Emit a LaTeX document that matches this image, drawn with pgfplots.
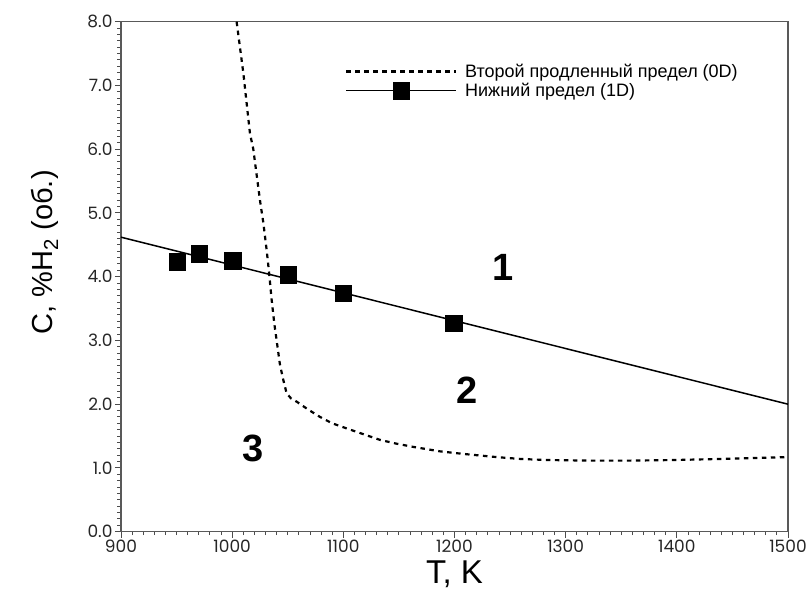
\documentclass[border=0pt]{standalone}
\usepackage{pgfplots}
\pgfplotsset{compat=1.18}
\usepackage{fontspec}
\setmainfont{Liberation Sans}
\newfontfamily\tickfont{Poppins}
\begin{document}
\begin{tikzpicture}[x=1pt,y=1pt]
\useasboundingbox (0,0) rectangle (809,596);
\begin{axis}[
  at={(121pt,64.3pt)}, anchor=south west,
  scale only axis, width=667pt, height=510pt,
  xmin=900, xmax=1500, ymin=0, ymax=8,
  xtick={900,1000,...,1500}, ytick={0,1,...,8},
  minor x tick num=9, minor y tick num=9,
  xtick pos=bottom, ytick pos=left, tick align=outside,
  major tick length=6pt, minor tick length=3.5pt,
  axis line style={draw=black!65, line width=1.1pt},
  every tick/.style={black!70, line width=0.9pt},
  /pgf/number format/assume math mode=true,
  tick label style={font=\fontsize{17}{17}\selectfont\tickfont, text=black!85},
  xticklabel={\pgfmathprintnumber[1000 sep={}]{\tick}},
  yticklabel={\pgfmathprintnumber[fixed,fixed zerofill,precision=1]{\tick}},
  xticklabel style={yshift=1pt},
  yticklabel style={xshift=1pt},
  xlabel={T, K},
  ylabel={C, \%H\textsubscript{2} (об.)},
  xlabel style={font=\fontsize{33}{33}\selectfont, at={(axis description cs:0.5,-0.084)}, anchor=center},
  ylabel style={font=\fontsize{29}{29}\selectfont, at={(axis description cs:-0.114,0.548)}, anchor=center, rotate=0},
  legend style={at={(rel axis cs:0.331,0.925)}, anchor=north west, draw=none, fill=none,
    font=\fontsize{18}{20}\selectfont, row sep=0pt,
    /tikz/every odd column/.append style={column sep=6pt}},
  legend cell align=left,
]
\addplot[black, line width=2.2pt, dash pattern=on 4.5pt off 4.5pt,
  legend image code/.code={\draw[black, line width=2.2pt, dash pattern=on 4.5pt off 4.5pt] (0pt,0pt) -- (110pt,0pt);}]
  coordinates {
  (1004,8.0) (1010,7.2) (1016,6.25) (1019,6.0) (1025,5.2) (1028,4.85) (1031,4.42)
  (1033,4.1) (1035.5,3.64) (1038,3.25) (1040,3.0) (1043,2.62) (1046,2.38)
  (1049,2.17) (1053,2.09) (1058,2.04) (1068,1.92) (1079,1.80) (1090,1.70)
  (1103,1.62) (1118,1.53) (1133,1.44) (1148,1.38) (1163,1.33) (1187,1.26)
  (1208,1.22) (1238,1.17) (1260,1.14) (1283,1.125) (1320,1.115) (1358,1.115)
  (1400,1.125) (1448,1.145) (1480,1.16) (1500,1.17)
  };
\addlegendentry{Второй продленный предел (0D)}
\addplot[black, line width=1.5pt, forget plot] coordinates {(900,4.62) (1500,2.00)};
\addplot[only marks, mark=square*, mark size=8.3pt, black,
  legend image code/.code={\draw[black, line width=1.5pt] (0pt,0pt) -- (110pt,0pt);
    \fill[black] (46.7pt,-8.3pt) rectangle (63.3pt,8.3pt);}]
  coordinates {(950.6,4.235) (970.4,4.36) (1000.4,4.25) (1050.5,4.03) (1100,3.74) (1199.5,3.27)};
\addlegendentry{Нижний предел (1D)}
\node[font=\fontsize{38}{38}\selectfont\bfseries] at (axis cs:1243.5,4.14) {1};
\node[font=\fontsize{38}{38}\selectfont\bfseries] at (axis cs:1211,2.22) {2};
\node[font=\fontsize{38}{38}\selectfont\bfseries] at (axis cs:1018.7,1.31) {3};
\end{axis}
\end{tikzpicture}
\end{document}
